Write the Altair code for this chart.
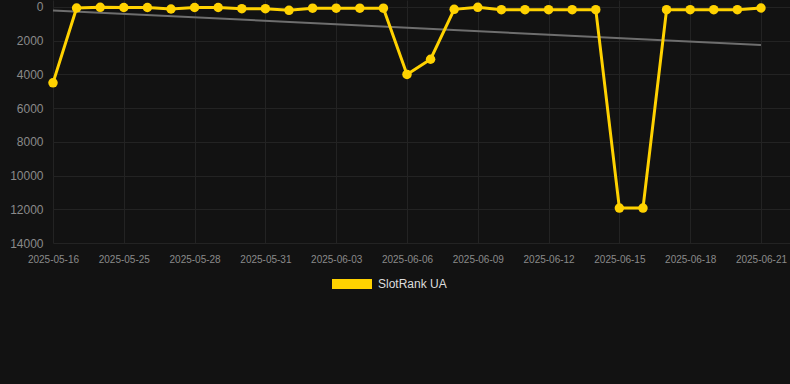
import altair as alt
import pandas as pd

dates = ["2025-05-16",
         "2025-05-23", "2025-05-24", "2025-05-25", "2025-05-26", "2025-05-27",
         "2025-05-28", "2025-05-29", "2025-05-30", "2025-05-31", "2025-06-01",
         "2025-06-02", "2025-06-03", "2025-06-04", "2025-06-05", "2025-06-06",
         "2025-06-07", "2025-06-08", "2025-06-09", "2025-06-10", "2025-06-11",
         "2025-06-12", "2025-06-13", "2025-06-14", "2025-06-15", "2025-06-16",
         "2025-06-17", "2025-06-18", "2025-06-19", "2025-06-20", "2025-06-21"]
ranks = [4500, 60, 20, 30, 30, 120, 30, 30, 100, 100, 200, 70, 70, 70, 70,
         4000, 3100, 140, 20, 160, 160, 160, 160, 160, 11930, 11930,
         160, 160, 160, 160, 60]
series_name = "SlotRank UA"
y_ticks = [0, 2000, 4000, 6000, 8000, 10000, 12000, 14000]
x_tick_idx = list(range(0, 31, 3))

df = pd.DataFrame({"idx": list(range(len(dates))), "date": dates, "rank": ranks,
                   "series": [series_name] * len(dates)})

label_array = "[" + ",".join("'" + d + "'" for d in dates) + "]"

x_scale = alt.Scale(domain=[0, 31.23], nice=False, zero=False)
x_axis = alt.Axis(values=x_tick_idx, labelExpr=label_array + "[datum.value]",
                  title=None, grid=True, gridColor="#232323", domain=False,
                  tickSize=0, labelPadding=11, labelFontSize=10,
                  labelOverlap=False, labelFlush=False, labelBound=False,
                  labelColor="#8a8a8a", labelFont="Liberation Sans")
y_scale = alt.Scale(domain=[-415, 14000], reverse=True, nice=False, zero=False)
y_axis = alt.Axis(values=y_ticks, format="d", title=None, grid=True,
                  gridColor="#232323", domain=False, tickSize=0, labelPadding=10,
                  labelFontSize=12, labelOverlap=False, labelFlush=False,
                  labelBound=False, labelColor="#8a8a8a", labelFont="Liberation Sans")

x_enc = alt.X("idx:Q", scale=x_scale, axis=x_axis)
y_enc = alt.Y("rank:Q", scale=y_scale, axis=y_axis)

base = alt.Chart(df)

trend = base.transform_regression("idx", "rank").mark_line(
    color="#6e6e6e", strokeWidth=2
).encode(x=x_enc, y=y_enc)

color_enc = alt.Color("series:N",
                      scale=alt.Scale(domain=[series_name], range=["#FFD200"]),
                      legend=alt.Legend(title=None, orient="none", legendX=279, legendY=264,
                                        symbolType="M-1,-0.25L1,-0.25L1,0.25L-1,0.25Z",
                                        symbolSize=1600, symbolFillColor="#FFD200",
                                        symbolStrokeColor="#FFD200", symbolStrokeWidth=0,
                                        labelOffset=6, labelFontSize=12,
                                        labelColor="#dddddd", labelFont="Liberation Sans"))

line = base.mark_line(strokeWidth=3).encode(x=x_enc, y=y_enc, color=color_enc)
points = base.mark_circle(size=90, opacity=1).encode(x=x_enc, y=y_enc, color=color_enc)

chart = alt.layer(trend, line, points).properties(
    width=737, height=243, background="#121212",
    autosize=alt.AutoSizeParams(type="none"),
    padding={"left": 53, "top": 0, "right": 0, "bottom": 141}
).configure_view(stroke=None)

chart.save("out.html", embed_options={"renderer": "svg", "actions": False})
